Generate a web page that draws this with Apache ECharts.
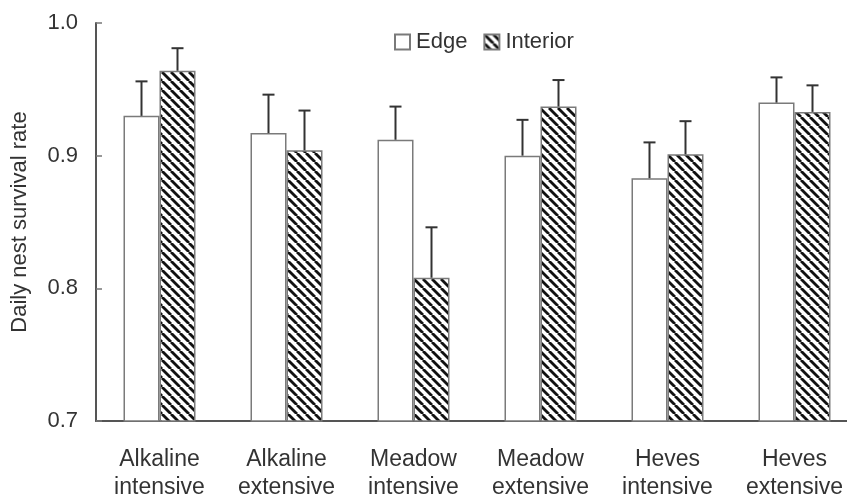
<!DOCTYPE html>
<html>
<head>
<meta charset="utf-8">
<script src="https://cdn.jsdelivr.net/npm/echarts@6/dist/echarts.min.js"></script>
<style>
html,body{margin:0;padding:0;background:#fff;}
#chart{width:847px;height:497px;}
</style>
</head>
<body>
<div id="chart"></div>
<script>
var categories = ['Alkaline\nintensive', 'Alkaline\nextensive', 'Meadow\nintensive', 'Meadow\nextensive', 'Heves\nintensive', 'Heves\nextensive'];
var edgeValues = [0.930, 0.917, 0.912, 0.900, 0.883, 0.940];
var edgeSE = [0.026, 0.029, 0.025, 0.027, 0.027, 0.019];
var interiorValues = [0.964, 0.904, 0.808, 0.937, 0.901, 0.933];
var interiorSE = [0.017, 0.030, 0.038, 0.020, 0.025, 0.020];
var yTicks = [0.7, 0.8, 0.9, 1.0];

var FONT = 'Liberation Sans, Arial, Helvetica, sans-serif';
var TXT = '#333';
var AXIS = '#555';
var BAR_W = 36;

function makeHatch() {
  var s = 9;
  var c = document.createElement('canvas');
  c.width = s; c.height = s;
  var ctx = c.getContext('2d');
  ctx.fillStyle = '#fff';
  ctx.fillRect(0, 0, s, s);
  ctx.strokeStyle = '#111';
  ctx.lineWidth = 2.8;
  [-s, 0, s].forEach(function (x0) {
    ctx.beginPath();
    ctx.moveTo(x0, 0);
    ctx.lineTo(x0 + s, s);
    ctx.stroke();
  });
  return c;
}
var hatch = { image: makeHatch(), repeat: 'repeat' };

function errData(vals, se) {
  return vals.map(function (v, i) { return [i, v, v + se[i]]; });
}

function errRender(offsetSign) {
  return function (params, api) {
    var i = api.value(0);
    var lo = api.coord([i, api.value(1)]);
    var hi = api.coord([i, api.value(2)]);
    var x = lo[0] + offsetSign * BAR_W / 2;
    var cap = 6;
    var st = { stroke: '#333', lineWidth: 2 };
    return {
      type: 'group',
      children: [
        { type: 'line', shape: { x1: x, y1: lo[1], x2: x, y2: hi[1] }, style: st },
        { type: 'line', shape: { x1: x - cap, y1: hi[1], x2: x + cap, y2: hi[1] }, style: st }
      ]
    };
  };
}

var chart = echarts.init(document.getElementById('chart'), null, { renderer: 'canvas' });
chart.setOption({
  animation: false,
  backgroundColor: '#fff',
  textStyle: { fontFamily: FONT },
  legend: {
    data: ['Edge', 'Interior'],
    left: 394,
    top: 31,
    padding: 0,
    itemWidth: 15,
    itemHeight: 15,
    itemGap: 16,
    icon: 'rect',
    textStyle: { fontSize: 22, color: TXT, fontFamily: FONT, padding: [0, 0, 0, 1] }
  },
  grid: { left: 96, top: 23, width: 762, height: 398, containLabel: false, outerBoundsMode: 'none' },
  xAxis: {
    type: 'category',
    data: categories,
    axisLine: { lineStyle: { color: AXIS, width: 2 } },
    axisTick: { inside: true, length: 7, lineStyle: { color: '#777', width: 1.5 } },
    axisLabel: { fontSize: 23, color: TXT, fontFamily: FONT, lineHeight: 28, margin: 25, interval: 0 }
  },
  yAxis: {
    type: 'value',
    min: 0.7,
    max: 1.0,
    interval: 0.1,
    name: 'Daily nest survival rate',
    nameLocation: 'middle',
    nameGap: 65,
    nameTextStyle: { fontSize: 22, color: TXT, fontFamily: FONT },
    splitLine: { show: false },
    axisLine: { show: true, lineStyle: { color: AXIS, width: 2 } },
    axisTick: { show: true, inside: true, length: 6, lineStyle: { color: '#777', width: 1.5 } },
    axisLabel: {
      fontSize: 22, color: TXT, fontFamily: FONT, margin: 18,
      formatter: function (v) {
        for (var k = 0; k < yTicks.length; k++) {
          if (Math.abs(yTicks[k] - v) < 1e-6) return yTicks[k].toFixed(1);
        }
        return '';
      }
    }
  },
  series: [
    {
      name: 'Edge',
      type: 'bar',
      data: edgeValues,
      barWidth: BAR_W,
      barGap: '0%',
      itemStyle: { color: '#fff', borderColor: '#7a7a7a', borderWidth: 1.5 },
      z: 2
    },
    {
      name: 'Interior',
      type: 'bar',
      data: interiorValues,
      barWidth: BAR_W,
      barGap: '0%',
      itemStyle: { color: hatch, borderColor: '#7a7a7a', borderWidth: 1.5 },
      z: 2
    },
    {
      name: 'EdgeErr',
      type: 'custom',
      data: errData(edgeValues, edgeSE),
      renderItem: errRender(-1),
      encode: { x: 0, y: [1, 2] },
      z: 3
    },
    {
      name: 'InteriorErr',
      type: 'custom',
      data: errData(interiorValues, interiorSE),
      renderItem: errRender(1),
      encode: { x: 0, y: [1, 2] },
      z: 3
    }
  ]
});
</script>
</body>
</html>
